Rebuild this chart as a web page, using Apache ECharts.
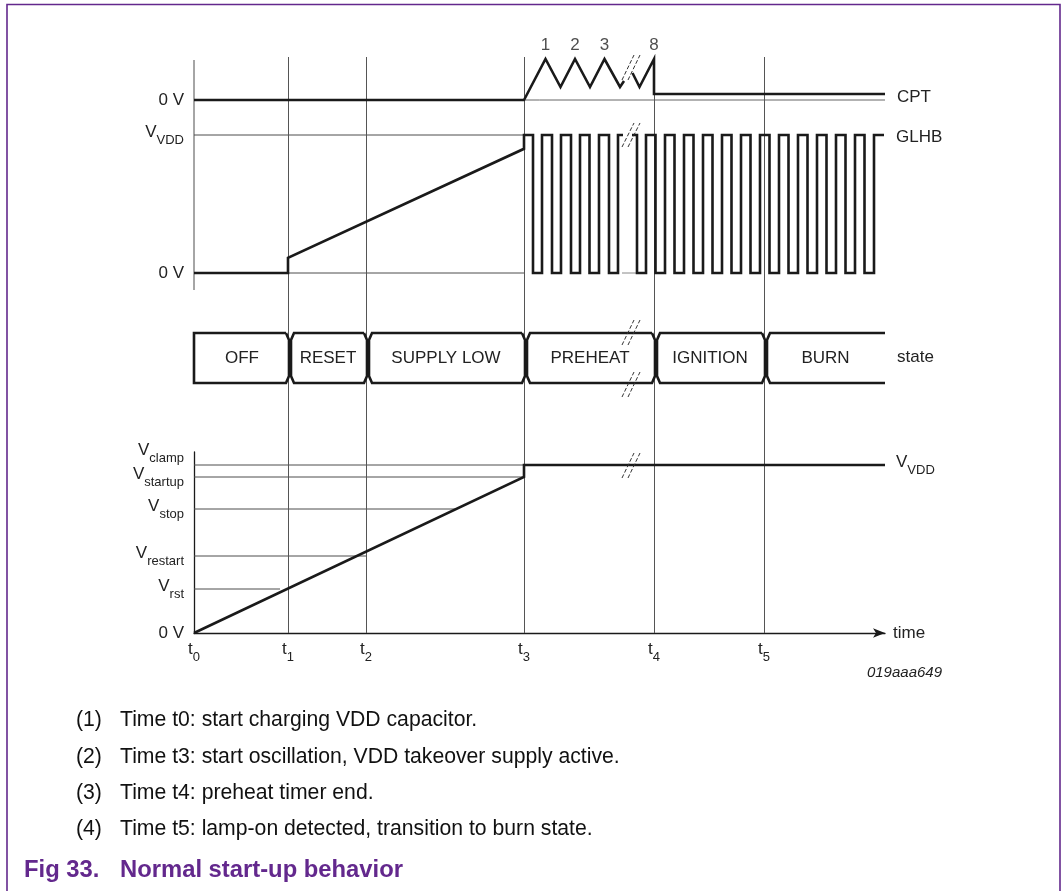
<!DOCTYPE html>
<html>
<head>
<meta charset="utf-8">
<title>Normal start-up behavior</title>
<script src="https://cdn.jsdelivr.net/npm/echarts@6.0.0/dist/echarts.min.js"></script>
<style>
    html, body { margin: 0; padding: 0; background: #fff; }
    #chart { width: 1063px; height: 891px; }
</style>
</head>
<body>
<div id="chart"></div>
<script>
'use strict';

// ---- time axis (t0 = 0, arbitrary time units) ----
const timeNames = ['0', '1', '2', '3', '4', '5'];
const timeMarks = [0, 94, 172, 330, 460, 570];
const timeEnd = 691;
const t0TopSpan = [343, 573];           // upper part of the t0 line (overlay units)

// ---- CPT (units above 0 V) ----
const cptPreX = [0, 330, 351.5, 366.5, 381, 396, 410.5, 426, 430];
const cptPreY = [0, 0, 41, 13, 41, 13, 41, 13, 19];
const cptPostX = [438.5, 445.5, 460, 460, timeEnd];
const cptPostY = [27, 13, 41, 6, 6];
const cptPulseNames = ['1', '2', '3', '8'];
const cptPulseX = [351.5, 381, 410.5, 460];
const cptPeak = 41;

// ---- GLHB (0 = 0 V, 1 = VVDD) ----
const glhbRampX = [0, 94, 94, 330, 330];
const glhbRampY = [0, 0, 0.11, 0.90, 1];
const glhbRiseA = [330, 348, 367, 386, 405, 424];
const glhbFallA = [339, 358, 377, 395.5, 415];
const glhbBreakA = 429;
const glhbResumeB = 438;
const glhbFallB = [443, 461.5, 480.5, 499.5, 518.5, 537.5, 556.5, 575.5, 594.5, 613.5, 632.5, 651.5, 670.5];
const glhbRiseB = [452, 471, 490, 509, 528, 547, 566, 585, 604, 623, 642, 661, 680];
const glhbEnd = 690;

// ---- state row ----
const stateNames = ['OFF', 'RESET', 'SUPPLY LOW', 'PREHEAT', 'IGNITION', 'BURN'];
const stateStart = [0, 94, 172, 330, 460, 570];
const stateEnd = [94, 172, 330, 460, 570, timeEnd];

// ---- VDD (units above 0 V) ----
const vddLevelNames = ['0 V', 'rst', 'restart', 'stop', 'startup'];
const vddLevels = [0, 44, 77, 124, 156];
const vddRefEnd = [0, 86, 172, 262, 330];
const vddClampName = 'clamp';
const vddClamp = 168;
const vddClampEnd = 330;
const vddX = [0, 330, 330, timeEnd];
const vddY = [0, 156, 168, 168];

// ---- break marks "//" ----
const breakStrokeX = [[428, 440], [434, 446]];
const breakCpt = [20, 45];
const breakGlhb = [0.913, 1.087];
const breakStateTop = [0.76, 1.26];
const breakStateBottom = [-0.28, 0.22];
const breakVdd = [155, 180];

// ---- notes ----
const noteNums = ['(1)', '(2)', '(3)', '(4)'];
const noteTexts = [
    'Time t0: start charging VDD capacitor.',
    'Time t3: start oscillation, VDD takeover supply active.',
    'Time t4: preheat timer end.',
    'Time t5: lamp-on detected, transition to burn state.'
];
const noteY = [720, 757, 793, 829];

const FONT = '"Liberation Sans", Arial, Helvetica, sans-serif';
const INK = '#1a1a1a';
const TXT = '#222';
const THIN = '#4d4d4d';
const PURPLE = '#63288d';

const subRich = {
    v: {fontSize: 17, fontFamily: FONT, color: TXT, verticalAlign: 'bottom', padding: [0, 0, 6, 0]},
    s: {fontSize: 13, fontFamily: FONT, color: TXT, verticalAlign: 'bottom'},
    t: {fontSize: 17, fontFamily: FONT, color: TXT, verticalAlign: 'bottom', padding: [0, 0, 6, 0]}
};

function xy(xs, ys) {
    return xs.map((x, i) => [x, ys[i]]);
}

function glhbPrePoints() {
    let pts = xy(glhbRampX, glhbRampY);
    for (let k = 0; k < glhbFallA.length; k++) {
        pts.push([glhbFallA[k], 1], [glhbFallA[k], 0]);
        pts.push([glhbRiseA[k + 1], 0], [glhbRiseA[k + 1], 1]);
    }
    pts.push([glhbBreakA, 1]);
    return pts;
}

function glhbPostPoints() {
    let pts = [[glhbResumeB, 1]];
    for (let k = 0; k < glhbFallB.length; k++) {
        pts.push([glhbFallB[k], 1], [glhbFallB[k], 0]);
        pts.push([glhbRiseB[k], 0], [glhbRiseB[k], 1]);
    }
    pts.push([glhbEnd, 1]);
    return pts;
}

function thinLine(grid, pts, color) {
    return {
        type: 'line', xAxisIndex: grid, yAxisIndex: grid, data: pts,
        symbol: 'none', silent: true, clip: false, z: 2,
        lineStyle: {color: color || THIN, width: 1}
    };
}

function thickLine(grid, pts, extra) {
    return Object.assign({
        type: 'line', xAxisIndex: grid, yAxisIndex: grid, data: pts,
        symbol: 'none', silent: true, clip: false, z: 5,
        lineStyle: {color: INK, width: 2.6, join: 'miter', cap: 'butt'}
    }, extra || {});
}

function breakMarks(grid, span) {
    return breakStrokeX.map(sx => ({
        type: 'line', xAxisIndex: grid, yAxisIndex: grid,
        data: [[sx[0], span[0]], [sx[1], span[1]]],
        symbol: 'none', silent: true, clip: false, z: 6,
        lineStyle: {color: '#333', width: 1, type: [4, 2]}
    }));
}

// state boxes, drawn with the notch ")(" at every transition
function renderState(params, api) {
    const i = params.dataIndex;
    const x0 = api.value(0), x1 = api.value(1);
    const first = i === 0, last = i === stateNames.length - 1;
    const shift = 2, outer = 4, inner = 1, dy = 0.14;
    const cl = x0 + shift, cr = x1 + shift;
    let pts = [];
    pts.push(last ? [x1, 1] : [cr - outer, 1]);
    if (first) {
        pts.push([x0, 1], [x0, 0]);
    } else {
        pts.push([cl + outer, 1], [cl + inner, 1 - dy], [cl + inner, dy], [cl + outer, 0]);
    }
    pts.push(last ? [x1, 0] : [cr - outer, 0]);
    if (!last) {
        pts.push([cr - inner, dy], [cr - inner, 1 - dy], [cr - outer, 1]);
    }
    const px = pts.map(p => api.coord(p));
    const mid = api.coord([(x0 + x1) / 2 + 1, 0.5]);
    return {
        type: 'group',
        children: [
            {type: 'polyline', shape: {points: px},
             style: {stroke: INK, lineWidth: 2.6, fill: null, lineJoin: 'miter'}},
            {type: 'text', x: mid[0], y: mid[1],
             style: {text: stateNames[i], align: 'center', verticalAlign: 'middle',
                     font: '17px ' + FONT, fill: TXT}}
        ]
    };
}

const baseGrid = {left: 194, right: 178};
const hiddenX = g => ({gridIndex: g, type: 'value', min: 0, max: timeEnd, show: false});
const noLines = {axisLine: {show: false}, axisTick: {show: false}, splitLine: {show: false}};

const chart = echarts.init(document.getElementById('chart'));

const option = {
    animation: false,
    backgroundColor: '#fff',
    textStyle: {fontFamily: FONT},
    grid: [
        Object.assign({top: 57, bottom: 258}, baseGrid),       // overlay for time lines
        Object.assign({top: 55, bottom: 786}, baseGrid),       // CPT
        Object.assign({top: 121.2, bottom: 611.1}, baseGrid),  // GLHB
        Object.assign({top: 318, bottom: 493}, baseGrid),      // state
        Object.assign({top: 452, bottom: 258}, baseGrid)       // VDD
    ],
    xAxis: [
        hiddenX(0), hiddenX(1), hiddenX(2), hiddenX(3),
        {
            gridIndex: 4, type: 'value', min: 0, max: timeEnd,
            axisLine: {show: true, symbol: ['none', 'arrow'], symbolSize: [7, 12],
                       lineStyle: {color: INK, width: 1.3}},
            axisTick: {show: false}, splitLine: {show: false},
            axisLabel: {
                customValues: timeMarks, margin: 8, showMinLabel: true, showMaxLabel: true,
                formatter: v => '{t|t}{s|' + timeNames[timeMarks.indexOf(v)] + '}',
                rich: subRich
            },
            name: 'time', nameLocation: 'end', nameGap: 8,
            nameTextStyle: {fontSize: 17, color: TXT, fontFamily: FONT}
        }
    ],
    yAxis: [
        {gridIndex: 0, type: 'value', min: 0, max: 576, show: false},
        Object.assign({
            gridIndex: 1, type: 'value', min: -5, max: 45,
            axisLabel: {customValues: [0], margin: 10, formatter: () => '0 V',
                        fontSize: 17, color: TXT, fontFamily: FONT}
        }, noLines),
        Object.assign({
            gridIndex: 2, type: 'value', min: -0.05, max: 1.1,
            axisLabel: {customValues: [0, 1], margin: 10, fontSize: 17, color: TXT, fontFamily: FONT,
                        showMinLabel: true, showMaxLabel: true,
                        formatter: v => v === 1 ? '{v|V}{s|VDD}' : '0 V', rich: subRich}
        }, noLines),
        Object.assign({
            gridIndex: 3, type: 'value', min: -0.3, max: 1.3, position: 'right',
            axisLabel: {customValues: [0.52], margin: 12, formatter: () => 'state',
                        fontSize: 17, color: TXT, fontFamily: FONT}
        }, noLines),
        {
            gridIndex: 4, type: 'value', min: 0, max: 181, position: 'left',
            axisLine: {show: true, lineStyle: {color: INK, width: 1.3}},
            axisTick: {show: false}, splitLine: {show: false},
            axisLabel: {
                customValues: vddLevels, margin: 10, fontSize: 17, color: TXT, fontFamily: FONT,
                showMinLabel: true, showMaxLabel: true,
                formatter: v => {
                    const i = vddLevels.indexOf(v);
                    if (i === 0) return vddLevelNames[0];
                    return '{v|V}{s|' + vddLevelNames[i] + '}';
                },
                rich: subRich
            }
        },
        // V clamp sits just above V startup: own axis, label set above its line
        Object.assign({
            gridIndex: 4, type: 'value', min: 0, max: 181, position: 'left', offset: 0,
            axisLabel: {
                customValues: [vddClamp], margin: 10, verticalAlign: 'bottom',
                showMinLabel: true, showMaxLabel: true,
                formatter: () => '{v|V}{s|' + vddClampName + '}', rich: subRich
            }
        }, noLines)
    ],
    series: [
        // vertical time lines
        {
            type: 'line', xAxisIndex: 0, yAxisIndex: 0, symbol: 'none', silent: true, z: 1,
            data: [[0, t0TopSpan[0]], [0, t0TopSpan[1]]],
            lineStyle: {color: THIN, width: 1},
            markLine: {
                silent: true, symbol: ['none', 'none'], label: {show: false},
                lineStyle: {color: '#555', width: 1, type: 'solid'},
                data: timeMarks.slice(1).map(v => ({xAxis: v}))
            }
        },
        // CPT
        thinLine(1, [[0, 0], [timeEnd, 0]], '#666'),
        thickLine(1, xy(cptPreX, cptPreY)),
        thickLine(1, xy(cptPostX, cptPostY), {
            endLabel: {show: true, formatter: 'CPT', distance: 12, offset: [0, 3],
                       fontSize: 17, color: TXT, fontFamily: FONT}
        }),
        {
            type: 'scatter', xAxisIndex: 1, yAxisIndex: 1, symbolSize: 0, silent: true,
            data: cptPulseX.map(x => [x, cptPeak]),
            label: {show: true, position: 'top', distance: 5, fontSize: 17, color: TXT, fontFamily: FONT,
                    formatter: p => cptPulseNames[p.dataIndex]}
        },
        // GLHB
        thinLine(2, [[0, 1], [glhbRiseA[0], 1]]),
        thinLine(2, [[0, 0], [glhbRiseA[0], 0]]),
        thinLine(2, [[428, 0], [glhbFallB[0], 0]], '#888'),
        thickLine(2, glhbPrePoints()),
        thickLine(2, glhbPostPoints(), {
            endLabel: {show: true, formatter: 'GLHB', distance: 12, offset: [0, 2],
                       fontSize: 17, color: TXT, fontFamily: FONT}
        }),
        // state
        {
            type: 'custom', xAxisIndex: 3, yAxisIndex: 3, silent: true, z: 5, clip: false,
            renderItem: renderState,
            encode: {x: [0, 1], y: 2},
            data: stateNames.map((n, i) => [stateStart[i], stateEnd[i], 0.5])
        },
        // VDD
        ...vddLevels.slice(1).map((lv, k) => thinLine(4, [[0, lv], [vddRefEnd[k + 1], lv]])),
        thinLine(4, [[0, vddClamp], [vddClampEnd, vddClamp]]),
        thickLine(4, xy(vddX, vddY), {
            endLabel: {show: true, formatter: '{v|V}{s|VDD}', distance: 11, rich: subRich}
        }),
        // break marks
        ...breakMarks(1, breakCpt),
        ...breakMarks(2, breakGlhb),
        ...breakMarks(3, breakStateTop),
        ...breakMarks(3, breakStateBottom),
        ...breakMarks(4, breakVdd)
    ],
    graphic: [
        {type: 'polyline', silent: true,
         shape: {points: [[7, 900], [7, 4.5], [1060, 4.5], [1060, 900]]},
         style: {stroke: PURPLE, lineWidth: 1.6, fill: null}},
        {type: 'text', x: 942, y: 673,
         style: {text: '019aaa649', align: 'right', verticalAlign: 'middle',
                 font: 'italic 15px ' + FONT, fill: TXT}},
        ...noteNums.map((n, i) => ({type: 'text', x: 76, y: noteY[i],
            style: {text: n, verticalAlign: 'middle', font: '21.2px ' + FONT, fill: '#111'}})),
        ...noteTexts.map((t, i) => ({type: 'text', x: 120, y: noteY[i],
            style: {text: t, verticalAlign: 'middle', font: '21.2px ' + FONT, fill: '#111'}})),
        {type: 'text', x: 24, y: 870,
         style: {text: 'Fig 33.', verticalAlign: 'middle', font: 'bold 23.8px ' + FONT, fill: PURPLE}},
        {type: 'text', x: 120, y: 870,
         style: {text: 'Normal start-up behavior', verticalAlign: 'middle', font: 'bold 23.8px ' + FONT, fill: PURPLE}}
    ]
};

chart.setOption(option);
</script>
</body>
</html>
